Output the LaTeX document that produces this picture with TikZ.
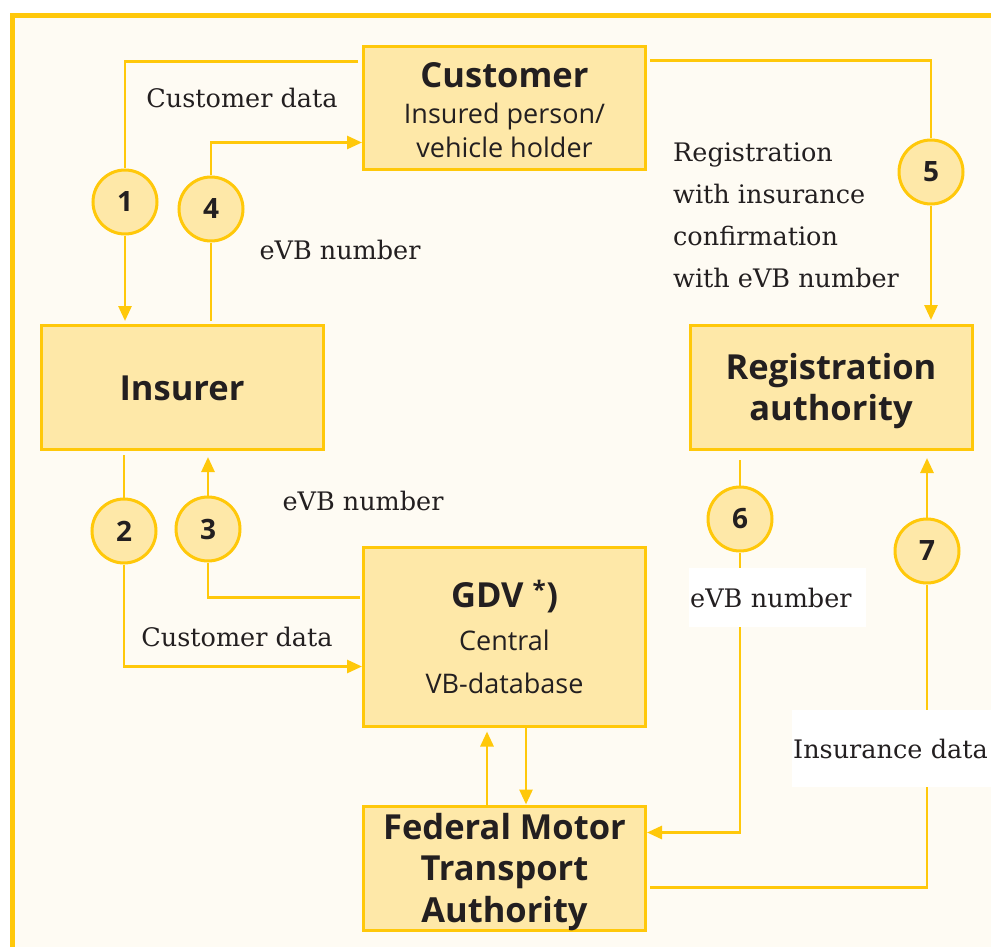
\documentclass[tikz,border=0pt]{standalone}
\usepackage{fontspec}
\setmainfont{DejaVu Serif}
\newfontfamily\boxfont{Open Sans}
\usetikzlibrary{arrows.meta,calc}
\definecolor{ylw}{HTML}{FFC80A}
\definecolor{boxfill}{HTML}{FEE8A8}
\definecolor{cream}{HTML}{FEFBF3}
\definecolor{ink}{HTML}{231F20}
\begin{document}
\begin{tikzpicture}[x=1pt,y=-1pt,
 box/.style={draw=ylw,fill=boxfill,line width=3pt,minimum width=282pt,inner sep=0},
 num/.style={circle,draw=ylw,fill=boxfill,line width=3pt,minimum size=64pt,inner sep=0,font=\boxfont\bfseries\fontsize{28}{28}\selectfont,text=ink},
 conn/.style={draw=ylw,line width=2.8pt},
 arr/.style={conn,-{Triangle[length=15pt,width=13pt]}},
 lbl/.style={font=\fontsize{25.5}{42}\selectfont,text=ink,inner sep=0},
 bt/.style={font=\boxfont\bfseries\fontsize{34.5}{41}\selectfont,text=ink,align=center,inner sep=0},
 rt/.style={font=\boxfont\fontsize{27}{34}\selectfont,text=ink,align=center,inner sep=0},
]
\useasboundingbox (0,0) rectangle (991,947);
\fill[white] (0,0) rectangle (991,947);
\draw[draw=ylw,fill=cream,line width=5pt] (12.5,15.5) rectangle (1020,980);

% boxes
\node[box,minimum height=123pt] (cust) at (504.5,108.5) {};
\node[box,minimum height=124pt] (ins) at (182,387.5) {};
\node[box,minimum height=124pt] (reg) at (831,387.5) {};
\node[box,minimum height=179pt] (gdv) at (504.5,636.5) {};
\node[box,minimum height=124pt] (fmta) at (504.5,868) {};

% box texts
\node[bt] (custT) at (504.5,75) {Customer};
\node[rt] (custS) at (504.5,130) {Insured person/\\vehicle holder};
\node[bt] (insT) at (182,388) {Insurer};
\node[bt] (regT) at (831,391.5) {Registration\\authority};
\node[bt] (gdvT) at (504.5,597) {GDV \textsuperscript{*})};
\node[rt,font=\boxfont\fontsize{27}{43}\selectfont] (gdvS) at (504.5,661.5) {Central\\VB-database};
\node[bt,font=\boxfont\bfseries\fontsize{34.5}{41.5}\selectfont] (fmtaT) at (504.5,872) {Federal Motor\\Transport\\Authority};

% circles
\node[num] (c1) at (125,202) {1};
\node[num] (c4) at (211,209) {4};
\node[num] (c2) at (124,531) {2};
\node[num] (c3) at (208,529) {3};
\node[num] (c5) at (931,172) {5};
\node[num] (c6) at (740,519) {6};
\node[num] (c7) at (927,551) {7};

% connectors
\draw[conn] ($(cust.north west)+(-4,16)$) -| (c1.north);
\draw[arr,shorten >=3pt] (c1.south) -- (c1.south |- ins.north);
\draw[conn,shorten <=3pt] (ins.north -| c4) -- (c4.south);
\draw[arr] (c4.north) |- ($(cust.north west)+(0,97)$);
\draw[conn] ($(cust.north east)+(3,15)$) -| (c5.north);
\draw[arr,shorten >=4pt] (c5.south) -- (c5.south |- reg.north);
\draw[conn,shorten <=4pt] (ins.south -| c2) -- (c2.north);
\draw[arr] (c2.south) |- ($(gdv.north west)+(0,121)$);
\draw[conn] ($(gdv.north west)+(-2,52)$) -| (c3.south);
\draw[arr,shorten >=6pt] (c3.north) -- (c3.north |- ins.south);
\draw[conn,shorten <=9pt] (reg.south -| c6) -- (c6.north);
\draw[arr] (c6.south) |- ($(fmta.north east)+(0,28)$);
\draw[conn] ($(fmta.north east)+(3,83)$) -| (c7.south);
\draw[arr,shorten >=7pt] (c7.north) -- (c7.north |- reg.south);
\draw[arr,shorten >=4pt] ($(fmta.north west)+(125,0)$) -- ($(gdv.south west)+(125,0)$);
\draw[arr] ($(gdv.south west)+(164,0)$) -- ($(fmta.north west)+(164,0)$);

% labels
\node[lbl] (l1) at (242,98) {Customer data};
\node[lbl] (l4) at (340,250) {eVB number};
\node[lbl,align=left,anchor=west] (l5) at (673,215.5) {Registration\\with insurance\\confirmation\\with eVB number};
\node[lbl] (l3) at (363,501) {eVB number};
\node[lbl] (l2) at (237,637) {Customer data};
\node[lbl,fill=white,anchor=west,inner xsep=1pt,minimum height=59pt,text width=175pt,align=left] (l6) at (689,597.5) {eVB number};
\node[lbl,fill=white,anchor=west,inner xsep=1pt,minimum height=77pt,text width=210pt,align=left] (l7) at (792,748.5) {Insurance data};
\end{tikzpicture}
\end{document}
